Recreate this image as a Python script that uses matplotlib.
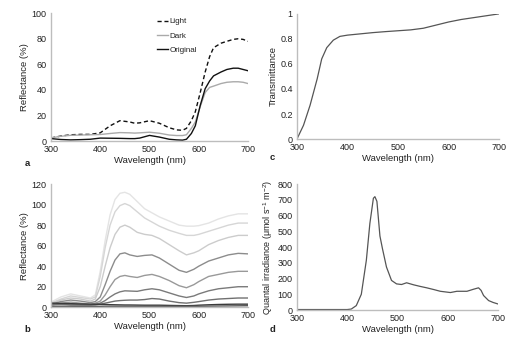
import numpy as np
import matplotlib
matplotlib.use('Agg')
import matplotlib.pyplot as plt

plt.rcParams['font.family'] = ['Liberation Sans', 'DejaVu Sans']
plt.rcParams['mathtext.fontset'] = 'custom'
plt.rcParams['mathtext.rm'] = 'Liberation Sans'
plt.rcParams['mathtext.it'] = 'Liberation Sans:italic'

# --- panel a: reflectance of the three models ---
wl_a = [300, 320, 340, 360, 380, 400, 420, 440, 460, 470, 480, 500, 520, 540, 555, 567,
        575, 585, 593, 603, 613, 622, 630, 645, 657, 670, 680, 690, 700]
light = [2.5, 4, 5, 5.3, 5.3, 6.5, 12, 16, 15, 14, 14.3, 16, 14, 10.5, 8.8, 8.5,
         10, 16, 23, 38, 54, 66, 73, 76.5, 78, 79.5, 80, 79.5, 78]
dark = [2.6, 3.8, 4.6, 4.8, 5, 5.2, 6, 6.7, 6.5, 6.3, 6.5, 7, 6.2, 4.8, 4.4, 4.4,
        5, 10, 15, 27, 38, 42, 43, 45, 46, 46.4, 46.4, 46, 45]
orig = [2, 1.3, 1, 1.2, 1.5, 2.4, 2.3, 2.2, 2, 2, 2.4, 4.5, 3.2, 1.5, 1, 0.8,
        1.5, 6, 12, 28, 41, 47, 51, 54, 56, 57, 57, 56, 55]

# --- panel b: reflectance of the grey series ---
wl_b = [300, 320, 340, 360, 380, 390, 400, 410, 420, 430, 440, 450, 460, 475, 490, 505,
        520, 540, 560, 575, 590, 600, 620, 640, 660, 680, 700]
refl_b = [
    [5, 10, 13, 11, 9, 12, 35, 65, 90, 105, 111, 112, 110, 103, 96, 92,
     88, 84, 80, 79, 79, 79.5, 82, 86, 89, 91, 91],
    [4, 8, 11, 9.5, 8, 10, 30, 58, 80, 93, 99, 101, 99, 93, 87, 83,
     79, 75, 72, 70, 70, 71, 74, 77, 80, 82, 82],
    [4, 7, 9, 8, 6, 8, 20, 40, 58, 71, 78, 80, 78, 73, 71, 70,
     67, 61, 55, 51, 53, 55, 61, 65, 68, 70, 70],
    [3, 5.5, 7, 6, 4.5, 5.5, 10, 22, 35, 46, 52, 53, 51, 49.5, 50.5, 51,
     48, 42, 36, 34, 37, 40, 45, 48, 51, 52.5, 52],
    [2, 4, 5, 4, 3, 4, 6, 12, 20, 27, 30, 31, 30, 29, 31, 32,
     30, 26, 21, 19, 22, 25, 30, 32, 34, 35, 35],
    [2, 2.5, 3, 2.8, 2.5, 3, 4, 6.5, 10, 13, 15, 16, 15.8, 15.5, 17, 18,
     17, 14, 11, 9.5, 11, 13, 16, 18, 19, 20, 20],
    [3, 2.5, 2, 2, 2, 2.2, 3, 4, 5, 6, 6.5, 6.8, 7, 7, 7.5, 8.5,
     8, 6, 4.5, 4, 4.8, 5.5, 7, 8, 8.5, 9, 9],
    [4, 3.8, 3.5, 3.2, 3, 2.9, 2.8, 2.7, 2.5, 2.4, 2.3, 2.2, 2.2, 2.1, 2, 2,
     2, 1.8, 1.6, 1.5, 1.7, 2, 2.4, 2.7, 2.9, 3, 3],
    [0.5, 0.5, 0.5, 0.6, 0.7, 0.8, 0.9, 1, 1, 1, 1, 1, 1, 1, 1, 1,
     1, 1, 1, 1, 1, 1, 1.1, 1.2, 1.3, 1.4, 1.5],
]
grey_b = ['#e4e4e4', '#d6d6d6', '#cccccc', '#8c8c8c', '#999999',
          '#7a7a7a', '#707070', '#3a3a3a', '#555555']

# --- panel c: transmittance ---
wl_c = [300, 313, 326, 340, 349, 359, 372, 385, 400, 425, 450, 475, 500, 525, 550,
        575, 600, 625, 650, 675, 700]
trans = [0, 0.11, 0.27, 0.48, 0.64, 0.73, 0.79, 0.82, 0.83, 0.84, 0.85, 0.858, 0.865,
         0.872, 0.885, 0.91, 0.935, 0.955, 0.97, 0.985, 1.0]

# --- panel d: quantal irradiance ---
wl_d = [300, 350, 400, 408, 418, 428, 438, 445, 452, 455, 459, 465, 470, 478, 488, 498,
        508, 518, 532, 545, 558, 572, 585, 605, 618, 638, 651, 661, 666, 671, 681, 690, 700]
irr = [3, 3, 3, 6, 28, 100, 316, 550, 710, 720, 690, 470, 390, 273, 188, 166,
       162, 173, 160, 150, 141, 130, 119, 111, 119, 119, 132, 141, 125, 92, 60, 48, 38]

spine_col = '#bdbdbd'
txt_col = '#222222'

fig = plt.figure(figsize=(5.2, 3.46), dpi=100)
ax_a = fig.add_axes([0.098, 0.592, 0.379, 0.370])
ax_c = fig.add_axes([0.571, 0.598, 0.389, 0.362])
ax_b = fig.add_axes([0.098, 0.112, 0.379, 0.356])
ax_d = fig.add_axes([0.571, 0.104, 0.387, 0.364])

for ax in (ax_a, ax_b, ax_c, ax_d):
    for s in ('top', 'right'):
        ax.spines[s].set_visible(False)
    for s in ('left', 'bottom'):
        ax.spines[s].set_color(spine_col)
        ax.spines[s].set_linewidth(1.0)
    ax.tick_params(length=0, labelsize=6.5, colors=txt_col, pad=3)
    ax.set_xlim(300, 700)
    ax.set_xticks([300, 400, 500, 600, 700])
    ax.set_xlabel('Wavelength (nm)', fontsize=6.8, color=txt_col, labelpad=1)

# a
ax_a.plot(wl_a, light, color='#111111', lw=1.0, ls=(0, (3, 2)), label='Light')
ax_a.plot(wl_a, dark, color='#aaaaaa', lw=1.0, label='Dark')
ax_a.plot(wl_a, orig, color='#111111', lw=1.0, label='Original')
ax_a.set_ylim(0, 100)
ax_a.set_yticks(range(0, 101, 20))
ax_a.set_ylabel('Reflectance (%)', fontsize=6.8, color=txt_col, labelpad=2)
ax_a.legend(loc='upper left', bbox_to_anchor=(0.5, 1.02), frameon=False, fontsize=5.8,
            handlelength=1.4, handletextpad=0.2, labelspacing=0.8, labelcolor=txt_col)

# b
for vals, col in zip(refl_b, grey_b):
    ax_b.plot(wl_b, vals, color=col, lw=1.0)
ax_b.set_ylim(0, 120)
ax_b.set_yticks(range(0, 121, 20))
ax_b.set_ylabel('Reflectance (%)', fontsize=6.8, color=txt_col, labelpad=2)

# c
ax_c.plot(wl_c, trans, color='#555555', lw=0.9)
ax_c.set_ylim(0, 1)
ax_c.set_yticks([0, 0.2, 0.4, 0.6, 0.8, 1])
ax_c.set_yticklabels(['0', '0.2', '0.4', '0.6', '0.8', '1'])
ax_c.set_ylabel('Transmittance', fontsize=6.8, color=txt_col, labelpad=2)

# d
ax_d.plot(wl_d, irr, color='#555555', lw=0.9)
ax_d.set_ylim(0, 800)
ax_d.set_yticks(range(0, 801, 100))
ax_d.set_ylabel(r'Quantal irradiance (μmol s$^{-1}$ m$^{-2}$)', fontsize=6.5,
                color=txt_col, labelpad=2)

for lab, x, y in (('a', 27, 163), ('b', 27, 329), ('c', 272, 158), ('d', 272, 329)):
    fig.text(x / 520, 1 - y / 346, lab, fontsize=6.8, fontweight='bold',
             color=txt_col, ha='center', va='center')

fig.savefig('out.png', dpi=100)
